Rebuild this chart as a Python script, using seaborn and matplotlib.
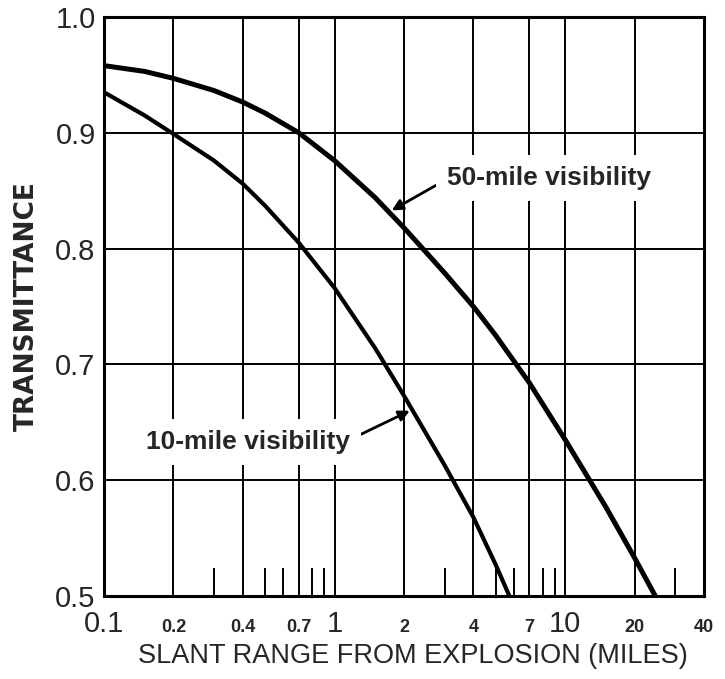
import pandas as pd
import seaborn as sns
import matplotlib.pyplot as plt

# values
range_50 = [0.1, 0.15, 0.2, 0.3, 0.4, 0.5, 0.7, 1, 1.5, 2, 3, 4, 5, 7, 10, 15, 20, 24.6]
trans_50 = [0.958, 0.953, 0.947, 0.9365, 0.9265, 0.917, 0.900, 0.876, 0.844, 0.818, 0.779, 0.750, 0.725,
            0.684, 0.635, 0.577, 0.533, 0.50]

range_10 = [0.1, 0.15, 0.2, 0.3, 0.4, 0.5, 0.7, 1, 1.5, 2, 3, 4, 5, 5.73]
trans_10 = [0.935, 0.915, 0.899, 0.876, 0.856, 0.837, 0.805, 0.766, 0.714, 0.673, 0.613, 0.568, 0.527, 0.50]

grid_ticks = [0.1, 0.2, 0.4, 0.7, 1, 2, 4, 7, 10, 20, 40]
grid_labels = ['0.1', '0.2', '0.4', '0.7', '1', '2', '4', '7', '10', '20', '40']
big_labels = ['0.1', '1', '10']
short_ticks = [0.3, 0.5, 0.6, 0.8, 0.9, 3, 5, 6, 8, 9, 30]
y_ticks = [0.5, 0.6, 0.7, 0.8, 0.9, 1.0]

df50 = pd.DataFrame({'range': range_50, 'T': trans_50})
df10 = pd.DataFrame({'range': range_10, 'T': trans_10})

sns.set_style('white')
plt.rcParams['font.family'] = ['Liberation Sans', 'DejaVu Sans']

fig = plt.figure(figsize=(7.25, 6.79), dpi=100)
ax = fig.add_axes([0.1434, 0.1222, 0.8276, 0.8528])

sns.lineplot(data=df50, x='range', y='T', color='black', linewidth=3.6, ax=ax)
sns.lineplot(data=df10, x='range', y='T', color='black', linewidth=3.0, ax=ax)

ax.set_xscale('log')
ax.set_xlim(0.1, 40)
ax.set_ylim(0.5, 1.0)

ax.set_xticks(grid_ticks)
ax.set_xticklabels(grid_labels)
ax.set_xticks(short_ticks, minor=True)
ax.set_xticklabels([], minor=True)
ax.set_yticks(y_ticks)
ax.set_yticklabels(['%.1f' % v for v in y_ticks])

ax.grid(True, which='major', color='black', linewidth=1.4)
ax.tick_params(which='major', length=0)
ax.tick_params(axis='x', which='major', pad=26)
ax.tick_params(axis='y', which='major', pad=6, labelsize=21)
ax.tick_params(axis='x', which='minor', direction='in', length=20, width=1.4,
               bottom=True, top=False, color='black')
for lab in ax.get_xticklabels():
    lab.set_verticalalignment('baseline')
    if lab.get_text() in big_labels:
        lab.set_fontsize(21)
    else:
        lab.set_fontsize(13)
        lab.set_fontweight('bold')

for s in ax.spines.values():
    s.set_linewidth(2.2)
    s.set_color('black')

ax.set_xlabel('SLANT RANGE FROM EXPLOSION (MILES)', fontsize=19.5)
ax.set_ylabel('TRANSMITTANCE', fontsize=19, fontweight='bold', family=['DejaVu Sans'])
ax.xaxis.set_label_coords(0.515, -0.081)
ax.yaxis.set_label_coords(-0.107, 0.5)

ax.annotate('50-mile visibility', xy=(1.77, 0.833), xytext=(3.07, 0.861),
            ha='left', va='center', fontsize=19, fontweight='bold',
            bbox=dict(fc='white', ec='none', pad=8),
            arrowprops=dict(arrowstyle='-|>', color='black', lw=2, mutation_scale=16,
                            shrinkA=0, shrinkB=0, relpos=(0.0, 0.45)))
ax.annotate('10-mile visibility', xy=(2.12, 0.660), xytext=(1.166, 0.633),
            ha='right', va='center', fontsize=19, fontweight='bold',
            bbox=dict(fc='white', ec='none', pad=8),
            arrowprops=dict(arrowstyle='-|>', color='black', lw=2, mutation_scale=16,
                            shrinkA=0, shrinkB=0, relpos=(1.0, 0.6)))

plt.savefig('out.png', dpi=100)
